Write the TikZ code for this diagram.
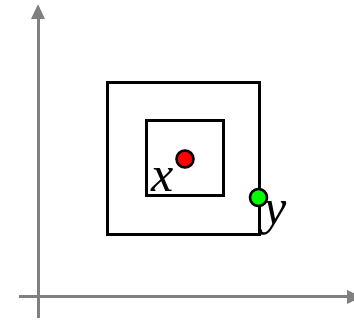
\documentclass[tikz,border=0pt]{standalone}
\usepackage{fontspec}
\setmainfont{Liberation Serif}
\usetikzlibrary{arrows.meta}
\definecolor{axisgray}{RGB}{128,128,128}
\tikzset{
  axisline/.style={draw=axisgray, line width=3pt, -{Triangle[length=15pt,width=13pt]}},
  sqbox/.style={draw=black, line width=3pt, rectangle, inner sep=0pt, outer sep=0pt},
  dotnode/.style={draw=black, line width=2.5pt, circle, inner sep=0pt, minimum size=17pt},
  lbl/.style={font=\fontsize{50}{50}\selectfont\itshape, inner sep=0pt}
}
\begin{document}
\begin{tikzpicture}[x=1pt,y=-1pt]
\useasboundingbox (0,0) rectangle (354,320);
\coordinate (yorig) at (38,318);
\coordinate (ytip) at (38,4);
\coordinate (xorig) at (19,297);
\coordinate (xtip) at (362,297);
\draw[axisline] (yorig) -- (ytip);
\draw[axisline] (xorig) -- (xtip);
\node[sqbox, minimum width=152pt, minimum height=152pt] (outer) at (183,159) {};
\node[sqbox, minimum width=77pt, minimum height=75pt] (inner) at (184.5,158.5) {};
\node[dotnode, fill=red] (xdot) at (185,159) {};
\node[dotnode, fill=green] (ydot) at (258.5,197.5) {};
\node[lbl] (xlab) at (162.5,180.5) {x};
\node[lbl] (ylab) at (276,218.5) {y};
\end{tikzpicture}
\end{document}
